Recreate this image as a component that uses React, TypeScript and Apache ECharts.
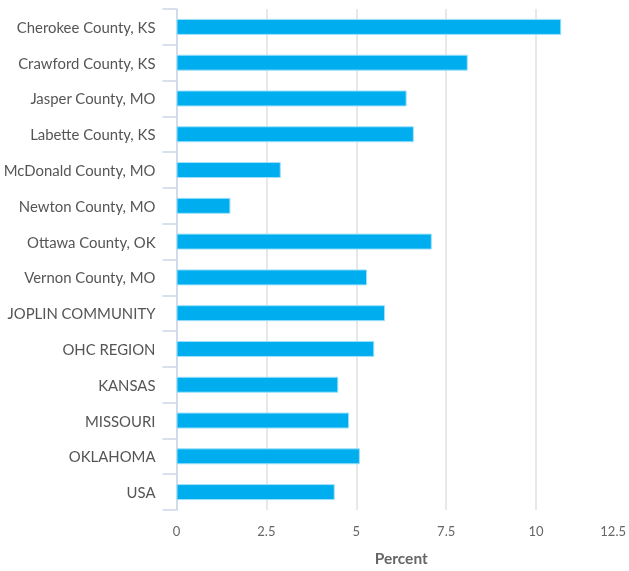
import React, { useEffect, useRef } from "react";
import * as echarts from "echarts";

const categories = [
  "Cherokee County, KS",
  "Crawford County, KS",
  "Jasper County, MO",
  "Labette County, KS",
  "McDonald County, MO",
  "Newton County, MO",
  "Ottawa County, OK",
  "Vernon County, MO",
  "JOPLIN COMMUNITY",
  "OHC REGION",
  "KANSAS",
  "MISSOURI",
  "OKLAHOMA",
  "USA",
];
const values = [10.7, 8.1, 6.4, 6.6, 2.9, 1.5, 7.1, 5.3, 5.8, 5.5, 4.5, 4.8, 5.1, 4.4];
const xTicks = { min: 0, max: 12.5, interval: 2.5 };
const axisName = "Percent";

export default function App() {
  const ref = useRef<HTMLDivElement>(null);
  useEffect(() => {
    if (!ref.current) return;
    const chart = echarts.init(ref.current, undefined, { renderer: "svg" });
    const font = "Lato, 'Open Sans', sans-serif";
    chart.setOption({
      animation: false,
      grid: { left: 176.5, right: 1.5, top: 9, bottom: 60.5, containLabel: false },
      xAxis: {
        type: "value",
        min: xTicks.min,
        max: xTicks.max,
        interval: xTicks.interval,
        name: axisName,
        nameLocation: "middle",
        nameGap: 40,
        nameTextStyle: { color: "#666666", fontSize: 15.5, fontWeight: "bold", fontFamily: font },
        axisLine: { show: false },
        axisTick: { show: false },
        axisLabel: {
          color: "#666666",
          fontSize: 13,
          fontFamily: font,
          margin: 14,
          alignMaxLabel: "right",
        },
        splitLine: { show: true, showMaxLine: false, lineStyle: { color: "#e0e0e0", width: 1.5 } },
      },
      yAxis: {
        type: "category",
        data: categories,
        inverse: true,
        axisLine: { show: true, lineStyle: { color: "#ccd6eb", width: 1.5 } },
        axisTick: { show: true, length: 14, lineStyle: { color: "#ccd6eb", width: 1.5 } },
        axisLabel: { color: "#555555", fontSize: 14.9, fontFamily: font, margin: 21, padding: [3, 0, 0, 0] },
      },
      series: [
        {
          type: "bar",
          data: values,
          barWidth: 16,
          itemStyle: {
            color: "#00aeef",
            borderColor: "rgba(160,225,250,1)",
            borderWidth: 1,
          },
        },
      ],
    });
    return () => chart.dispose();
  }, []);
  return (
    <div
      ref={ref}
      style={{ position: "fixed", left: 0, top: 0, width: 629, height: 571 }}
    />
  );
}
